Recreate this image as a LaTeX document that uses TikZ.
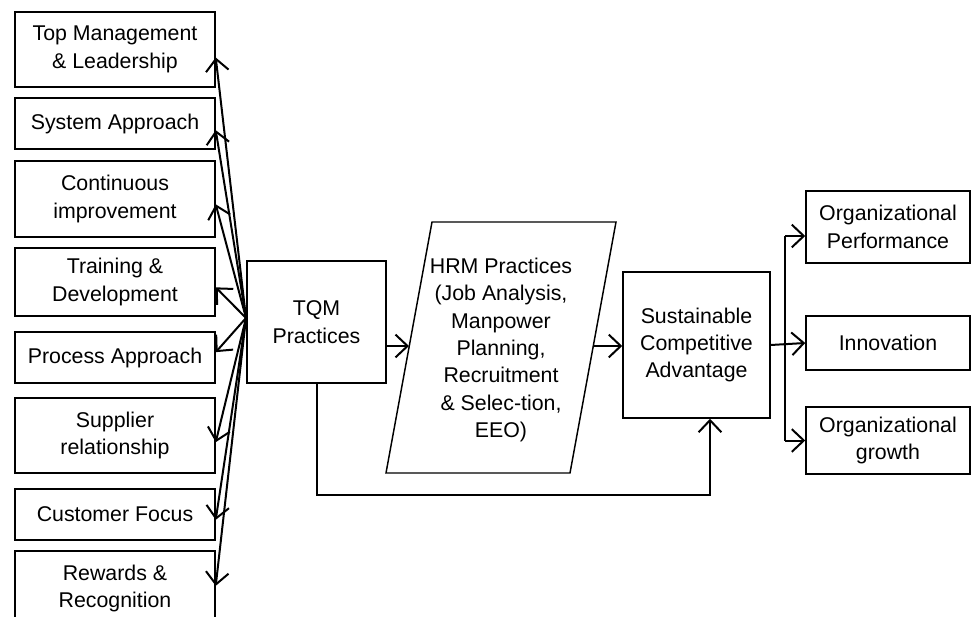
\documentclass[tikz,border=0pt]{standalone}
\usepackage{fontspec}
\setmainfont{Liberation Sans}
\usetikzlibrary{arrows.meta}

\tikzset{
  bloco/.style={draw, line width=1.1pt, align=center, inner sep=2pt,
    font=\fontsize{16}{20.5}\selectfont},
  texto/.style={align=center, inner sep=0pt, font=\fontsize{16}{20.5}\selectfont},
  seta/.style={line width=1.5pt, -{Straight Barb[length=9pt,width=17pt,line width=1.5pt]}},
  linha/.style={line width=1.5pt}
}

\begin{document}
\begin{tikzpicture}[x=0.75pt, y=-0.75pt]
        % Moldura e recorte
        \useasboundingbox (0,0) rectangle (975,617);
        \clip (0,0) rectangle (975,617);

        % Praticas TQM (coluna da esquerda)
        \node[bloco, minimum width=150pt, minimum height=56.25pt] (lider) at (115,49.5) {Top Management\\\& Leadership};
        \node[bloco, minimum width=150pt, minimum height=38.25pt] (sistema) at (115,123.5) {System Approach};
        \node[bloco, minimum width=150pt, minimum height=57pt] (melhoria) at (115,199) {Continuous\\improvement};
        \node[bloco, minimum width=150pt, minimum height=51pt] (treino) at (115,282) {Training \&\\Development};
        \node[bloco, minimum width=150pt, minimum height=38.25pt] (processo) at (115,357.5) {Process Approach};
        \node[bloco, minimum width=150pt, minimum height=56.25pt] (fornecedor) at (115,435.5) {Supplier\\relationship};
        \node[bloco, minimum width=150pt, minimum height=38.25pt] (cliente) at (115,514.5) {Customer Focus};
        \node[bloco, minimum width=150pt, minimum height=56.25pt] (recompensa) at (115,588.5) {Rewards \&\\Recognition};

        % Blocos centrais
        \node[bloco, minimum width=104.25pt, minimum height=91.5pt] (tqm) at (316.5,322) {TQM\\Practices};

        % Paralelogramo das praticas de RH
        \draw[line width=1.1pt] (386,473) -- (570,473) -- (616,222) -- (432,222) -- cycle;
        \node[texto] (hrm) at (501,350)
              {HRM Practices\\(Job Analysis,\\Manpower\\Planning,\\Recruitment\\\& Selec-tion,\\EEO)};
        \coordinate (hrmEntra) at (409,346);
        \coordinate (hrmSai) at (593,346);

        \node[bloco, minimum width=110.25pt, minimum height=109.5pt] (sca) at (696.5,345) {Sustainable\\Competitive\\Advantage};

        % Resultados (coluna da direita)
        \node[bloco, minimum width=123pt, minimum height=54pt] (desempenho) at (888,227) {Organizational\\Performance};
        \node[bloco, minimum width=123pt, minimum height=40.5pt] (inovacao) at (888,343) {Innovation};
        \node[bloco, minimum width=123pt, minimum height=50.25pt] (crescimento) at (888,440.5) {Organizational\\growth};

        % Leque de setas a partir do TQM
        \coordinate (leque) at (246,318);
        \draw[seta] (leque) -- ([yshift=-6pt]lider.east);
        \draw[seta] (leque) -- ([yshift=-5pt]sistema.east);
        \draw[seta] (leque) -- ([yshift=-4pt]melhoria.east);
        \draw[seta] (leque) -- ([yshift=-4pt]treino.east);
        \draw[seta] (leque) -- ([yshift=4pt]processo.east);
        \draw[seta] (leque) -- ([yshift=-5pt]fornecedor.east);
        \draw[seta] (leque) -- ([yshift=-4pt]cliente.east);
        \draw[seta] (leque) -- ([yshift=2pt]recompensa.east);

        % Fluxo principal
        \draw[seta] (tqm.east |- hrmEntra) -- (hrmEntra);
        \draw[seta] (hrmSai) -- (sca.west |- hrmSai);

        % Ligacao direta TQM -> vantagem competitiva
        \coordinate (volta) at (710,495);
        \draw[seta] (tqm.south) |- (volta) -- (volta |- sca.south);

        % Ramificacao para os resultados
        \coordinate (ramo) at (785,236);
        \draw[linha] (ramo) -- (ramo |- crescimento.west);
        \draw[seta] (sca.east) -- (inovacao.west);
        \draw[seta] (ramo) -- (ramo -| desempenho.west);
        \draw[seta] (ramo |- crescimento.west) -- (crescimento.west);
\end{tikzpicture}
\end{document}
